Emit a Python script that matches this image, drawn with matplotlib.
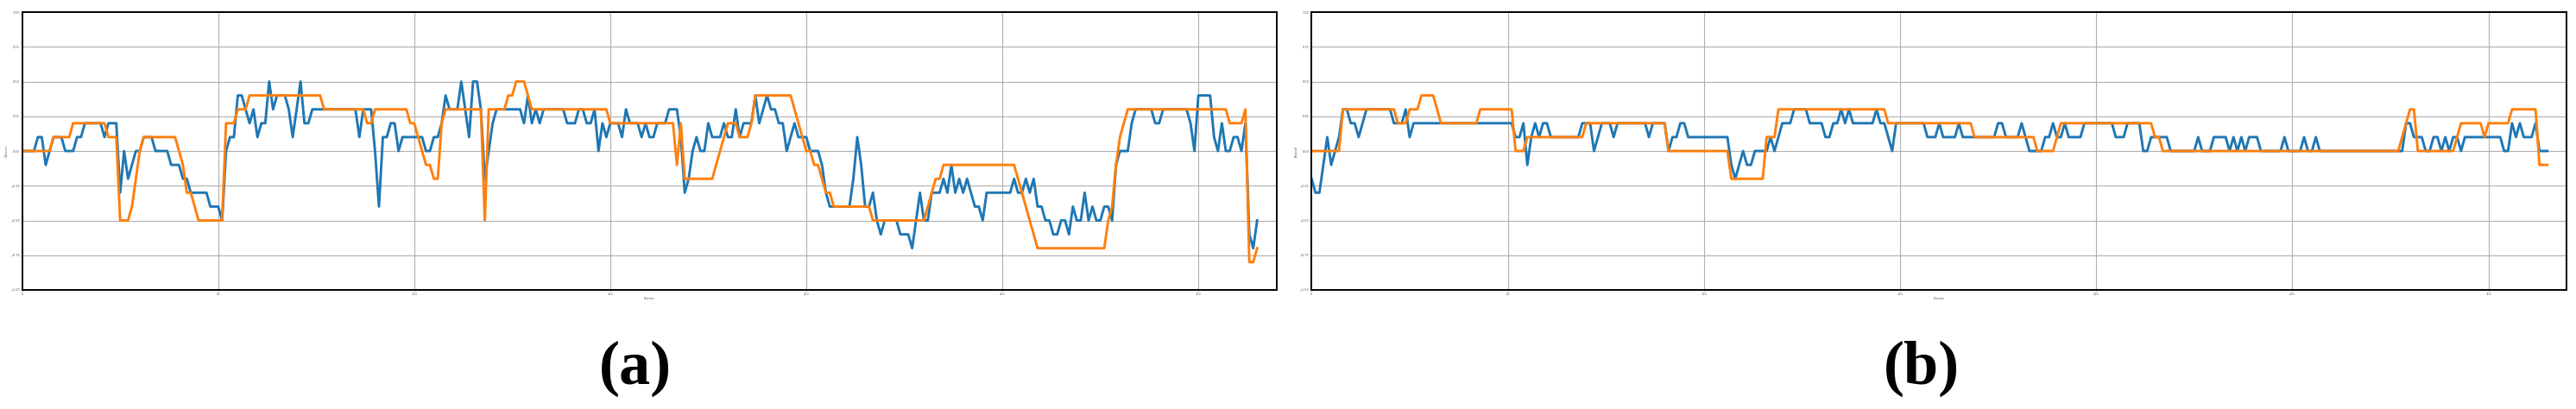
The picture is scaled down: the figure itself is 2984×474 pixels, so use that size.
import matplotlib
matplotlib.use("Agg")
import matplotlib.pyplot as plt

# per-frame values, panel (a)
a_blue = [
    0.0, 0.0, 0.0, 0.0, 0.1, 0.1, -0.1, 0.0, 0.1, 0.1, 0.1, 0.0, 0.0, 0.0, 0.1, 0.1, 0.2, 0.2, 0.2, 0.2,
    0.2, 0.1, 0.2, 0.2, 0.2, -0.3, 0.0, -0.2, -0.1, 0.0, 0.0, 0.1, 0.1, 0.1, 0.0, 0.0, 0.0, 0.0, -0.1, -0.1,
    -0.1, -0.2, -0.2, -0.3, -0.3, -0.3, -0.3, -0.3, -0.4, -0.4, -0.4, -0.5, 0.0, 0.1, 0.1, 0.4, 0.4, 0.3, 0.2, 0.3,
    0.1, 0.2, 0.2, 0.5, 0.3, 0.4, 0.4, 0.4, 0.3, 0.1, 0.3, 0.5, 0.2, 0.2, 0.3, 0.3, 0.3, 0.3, 0.3, 0.3,
    0.3, 0.3, 0.3, 0.3, 0.3, 0.3, 0.1, 0.3, 0.3, 0.3, 0.0, -0.4, 0.1, 0.1, 0.2, 0.2, 0.0, 0.1, 0.1, 0.1,
    0.1, 0.1, 0.1, 0.0, 0.0, 0.1, 0.1, 0.2, 0.4, 0.3, 0.3, 0.3, 0.5, 0.3, 0.1, 0.5, 0.5, 0.3, -0.2, 0.0,
    0.2, 0.3, 0.3, 0.3, 0.3, 0.3, 0.3, 0.3, 0.2, 0.4, 0.2, 0.3, 0.2, 0.3, 0.3, 0.3, 0.3, 0.3, 0.3, 0.2,
    0.2, 0.2, 0.3, 0.3, 0.2, 0.2, 0.3, 0.0, 0.2, 0.1, 0.2, 0.2, 0.2, 0.1, 0.3, 0.2, 0.2, 0.2, 0.1, 0.2,
    0.1, 0.1, 0.2, 0.2, 0.2, 0.3, 0.3, 0.3, 0.1, -0.3, -0.2, 0.0, 0.1, 0.0, 0.0, 0.2, 0.1, 0.1, 0.1, 0.2,
    0.1, 0.1, 0.3, 0.1, 0.2, 0.2, 0.2, 0.4, 0.2, 0.3, 0.4, 0.3, 0.3, 0.2, 0.2, 0.0, 0.1, 0.2, 0.1, 0.1,
    0.1, 0.0, 0.0, 0.0, -0.1, -0.3, -0.4, -0.4, -0.4, -0.4, -0.4, -0.4, -0.2, 0.1, -0.1, -0.4, -0.4, -0.3, -0.5, -0.6,
    -0.5, -0.5, -0.5, -0.5, -0.6, -0.6, -0.6, -0.7, -0.5, -0.3, -0.5, -0.5, -0.3, -0.3, -0.3, -0.2, -0.3, -0.1, -0.3, -0.2,
    -0.3, -0.2, -0.3, -0.4, -0.4, -0.5, -0.3, -0.3, -0.3, -0.3, -0.3, -0.3, -0.3, -0.2, -0.3, -0.3, -0.2, -0.3, -0.2, -0.4,
    -0.4, -0.5, -0.5, -0.6, -0.6, -0.5, -0.5, -0.6, -0.4, -0.5, -0.5, -0.3, -0.5, -0.4, -0.5, -0.5, -0.4, -0.4, -0.5, -0.1,
    0.0, 0.0, 0.0, 0.2, 0.3, 0.3, 0.3, 0.3, 0.3, 0.2, 0.2, 0.3, 0.3, 0.3, 0.3, 0.3, 0.3, 0.3, 0.2, 0.0,
    0.4, 0.4, 0.4, 0.4, 0.1, 0.0, 0.2, 0.0, 0.0, 0.1, 0.1, 0.0, 0.2, -0.6, -0.7, -0.5,
]
a_orange = [
    0.0, 0.0, 0.0, 0.0, 0.0, 0.0, 0.0, 0.0, 0.1, 0.1, 0.1, 0.1, 0.1, 0.2, 0.2, 0.2, 0.2, 0.2, 0.2, 0.2,
    0.2, 0.2, 0.1, 0.1, 0.1, -0.5, -0.5, -0.5, -0.4, -0.2, 0.0, 0.1, 0.1, 0.1, 0.1, 0.1, 0.1, 0.1, 0.1, 0.1,
    0.0, -0.1, -0.3, -0.3, -0.4, -0.5, -0.5, -0.5, -0.5, -0.5, -0.5, -0.5, 0.2, 0.2, 0.2, 0.3, 0.3, 0.3, 0.4, 0.4,
    0.4, 0.4, 0.4, 0.4, 0.4, 0.4, 0.4, 0.4, 0.4, 0.4, 0.4, 0.4, 0.4, 0.4, 0.4, 0.4, 0.4, 0.3, 0.3, 0.3,
    0.3, 0.3, 0.3, 0.3, 0.3, 0.3, 0.3, 0.3, 0.2, 0.2, 0.3, 0.3, 0.3, 0.3, 0.3, 0.3, 0.3, 0.3, 0.3, 0.2,
    0.2, 0.1, 0.0, -0.1, -0.1, -0.2, -0.2, 0.2, 0.3, 0.3, 0.3, 0.3, 0.3, 0.3, 0.3, 0.3, 0.3, 0.3, -0.5, 0.3,
    0.3, 0.3, 0.3, 0.3, 0.4, 0.4, 0.5, 0.5, 0.5, 0.4, 0.3, 0.3, 0.3, 0.3, 0.3, 0.3, 0.3, 0.3, 0.3, 0.3,
    0.3, 0.3, 0.3, 0.3, 0.3, 0.3, 0.3, 0.3, 0.3, 0.3, 0.2, 0.2, 0.2, 0.2, 0.2, 0.2, 0.2, 0.2, 0.2, 0.2,
    0.2, 0.2, 0.2, 0.2, 0.2, 0.2, 0.2, -0.1, 0.2, -0.2, -0.2, -0.2, -0.2, -0.2, -0.2, -0.2, -0.2, -0.1, 0.0, 0.1,
    0.2, 0.2, 0.2, 0.1, 0.1, 0.1, 0.2, 0.4, 0.4, 0.4, 0.4, 0.4, 0.4, 0.4, 0.4, 0.4, 0.4, 0.3, 0.2, 0.1,
    0.0, 0.0, -0.1, -0.1, -0.2, -0.3, -0.3, -0.4, -0.4, -0.4, -0.4, -0.4, -0.4, -0.4, -0.4, -0.4, -0.4, -0.5, -0.5, -0.5,
    -0.5, -0.5, -0.5, -0.5, -0.5, -0.5, -0.5, -0.5, -0.5, -0.5, -0.5, -0.4, -0.3, -0.2, -0.2, -0.1, -0.1, -0.1, -0.1, -0.1,
    -0.1, -0.1, -0.1, -0.1, -0.1, -0.1, -0.1, -0.1, -0.1, -0.1, -0.1, -0.1, -0.1, -0.1, -0.2, -0.3, -0.4, -0.5, -0.6, -0.7,
    -0.7, -0.7, -0.7, -0.7, -0.7, -0.7, -0.7, -0.7, -0.7, -0.7, -0.7, -0.7, -0.7, -0.7, -0.7, -0.7, -0.7, -0.5, -0.4, -0.1,
    0.1, 0.2, 0.3, 0.3, 0.3, 0.3, 0.3, 0.3, 0.3, 0.3, 0.3, 0.3, 0.3, 0.3, 0.3, 0.3, 0.3, 0.3, 0.3, 0.3,
    0.3, 0.3, 0.3, 0.3, 0.3, 0.3, 0.3, 0.3, 0.2, 0.2, 0.2, 0.2, 0.3, -0.8, -0.8, -0.7,
]

# per-frame values, panel (b)
b_blue = [
    -0.2, -0.3, -0.3, -0.1, 0.1, -0.1, 0.0, 0.1, 0.3, 0.3, 0.2, 0.2, 0.1, 0.2, 0.3, 0.3, 0.3, 0.3, 0.3, 0.3,
    0.3, 0.2, 0.2, 0.2, 0.3, 0.1, 0.2, 0.2, 0.2, 0.2, 0.2, 0.2, 0.2, 0.2, 0.2, 0.2, 0.2, 0.2, 0.2, 0.2,
    0.2, 0.2, 0.2, 0.2, 0.2, 0.2, 0.2, 0.2, 0.2, 0.2, 0.2, 0.2, 0.1, 0.1, 0.2, -0.1, 0.1, 0.2, 0.1, 0.2,
    0.2, 0.1, 0.1, 0.1, 0.1, 0.1, 0.1, 0.1, 0.1, 0.2, 0.2, 0.2, 0.0, 0.1, 0.2, 0.2, 0.2, 0.1, 0.2, 0.2,
    0.2, 0.2, 0.2, 0.2, 0.2, 0.2, 0.1, 0.2, 0.2, 0.2, 0.2, 0.0, 0.1, 0.1, 0.2, 0.2, 0.1, 0.1, 0.1, 0.1,
    0.1, 0.1, 0.1, 0.1, 0.1, 0.1, 0.1, -0.1, -0.2, -0.1, 0.0, -0.1, -0.1, 0.0, 0.0, 0.0, 0.0, 0.1, 0.0, 0.1,
    0.2, 0.2, 0.2, 0.3, 0.3, 0.3, 0.3, 0.2, 0.2, 0.2, 0.2, 0.1, 0.1, 0.2, 0.2, 0.3, 0.2, 0.3, 0.2, 0.2,
    0.2, 0.2, 0.2, 0.2, 0.3, 0.2, 0.2, 0.1, 0.0, 0.2, 0.2, 0.2, 0.2, 0.2, 0.2, 0.2, 0.2, 0.1, 0.1, 0.1,
    0.2, 0.1, 0.1, 0.1, 0.1, 0.2, 0.1, 0.1, 0.1, 0.1, 0.1, 0.1, 0.1, 0.1, 0.1, 0.2, 0.2, 0.1, 0.1, 0.1,
    0.1, 0.2, 0.1, 0.0, 0.0, 0.0, 0.0, 0.1, 0.1, 0.2, 0.1, 0.1, 0.2, 0.1, 0.1, 0.1, 0.1, 0.2, 0.2, 0.2,
    0.2, 0.2, 0.2, 0.2, 0.2, 0.1, 0.1, 0.1, 0.2, 0.2, 0.2, 0.2, 0.0, 0.0, 0.1, 0.1, 0.1, 0.1, 0.1, 0.0,
    0.0, 0.0, 0.0, 0.0, 0.0, 0.0, 0.1, 0.0, 0.0, 0.0, 0.1, 0.1, 0.1, 0.1, 0.0, 0.1, 0.0, 0.1, 0.0, 0.1,
    0.1, 0.1, 0.0, 0.0, 0.0, 0.0, 0.0, 0.0, 0.1, 0.0, 0.0, 0.0, 0.0, 0.1, 0.0, 0.0, 0.1, 0.0, 0.0, 0.0,
    0.0, 0.0, 0.0, 0.0, 0.0, 0.0, 0.0, 0.0, 0.0, 0.0, 0.0, 0.0, 0.0, 0.0, 0.0, 0.0, 0.0, 0.0, 0.0, 0.2,
    0.2, 0.1, 0.1, 0.1, 0.0, 0.0, 0.1, 0.1, 0.0, 0.1, 0.0, 0.1, 0.1, 0.0, 0.1, 0.1, 0.1, 0.1, 0.1, 0.1,
    0.1, 0.1, 0.1, 0.1, 0.0, 0.0, 0.2, 0.1, 0.2, 0.1, 0.1, 0.1, 0.2, 0.0, 0.0, 0.0,
]
b_orange = [
    0.0, 0.0, 0.0, 0.0, 0.0, 0.0, 0.0, 0.0, 0.3, 0.3, 0.3, 0.3, 0.3, 0.3, 0.3, 0.3, 0.3, 0.3, 0.3, 0.3,
    0.3, 0.3, 0.2, 0.2, 0.2, 0.3, 0.3, 0.3, 0.4, 0.4, 0.4, 0.4, 0.3, 0.2, 0.2, 0.2, 0.2, 0.2, 0.2, 0.2,
    0.2, 0.2, 0.2, 0.3, 0.3, 0.3, 0.3, 0.3, 0.3, 0.3, 0.3, 0.3, 0.0, 0.0, 0.0, 0.1, 0.1, 0.1, 0.1, 0.1,
    0.1, 0.1, 0.1, 0.1, 0.1, 0.1, 0.1, 0.1, 0.1, 0.1, 0.2, 0.2, 0.2, 0.2, 0.2, 0.2, 0.2, 0.2, 0.2, 0.2,
    0.2, 0.2, 0.2, 0.2, 0.2, 0.2, 0.2, 0.2, 0.2, 0.2, 0.2, 0.0, 0.0, 0.0, 0.0, 0.0, 0.0, 0.0, 0.0, 0.0,
    0.0, 0.0, 0.0, 0.0, 0.0, 0.0, 0.0, -0.2, -0.2, -0.2, -0.2, -0.2, -0.2, -0.2, -0.2, -0.2, 0.1, 0.1, 0.1, 0.3,
    0.3, 0.3, 0.3, 0.3, 0.3, 0.3, 0.3, 0.3, 0.3, 0.3, 0.3, 0.3, 0.3, 0.3, 0.3, 0.3, 0.3, 0.3, 0.3, 0.3,
    0.3, 0.3, 0.3, 0.3, 0.3, 0.3, 0.3, 0.2, 0.2, 0.2, 0.2, 0.2, 0.2, 0.2, 0.2, 0.2, 0.2, 0.2, 0.2, 0.2,
    0.2, 0.2, 0.2, 0.2, 0.2, 0.2, 0.2, 0.2, 0.2, 0.1, 0.1, 0.1, 0.1, 0.1, 0.1, 0.1, 0.1, 0.1, 0.1, 0.1,
    0.1, 0.1, 0.1, 0.1, 0.1, 0.0, 0.0, 0.0, 0.0, 0.0, 0.1, 0.2, 0.2, 0.2, 0.2, 0.2, 0.2, 0.2, 0.2, 0.2,
    0.2, 0.2, 0.2, 0.2, 0.2, 0.2, 0.2, 0.2, 0.2, 0.2, 0.2, 0.2, 0.2, 0.2, 0.2, 0.1, 0.1, 0.0, 0.0, 0.0,
    0.0, 0.0, 0.0, 0.0, 0.0, 0.0, 0.0, 0.0, 0.0, 0.0, 0.0, 0.0, 0.0, 0.0, 0.0, 0.0, 0.0, 0.0, 0.0, 0.0,
    0.0, 0.0, 0.0, 0.0, 0.0, 0.0, 0.0, 0.0, 0.0, 0.0, 0.0, 0.0, 0.0, 0.0, 0.0, 0.0, 0.0, 0.0, 0.0, 0.0,
    0.0, 0.0, 0.0, 0.0, 0.0, 0.0, 0.0, 0.0, 0.0, 0.0, 0.0, 0.0, 0.0, 0.0, 0.0, 0.0, 0.0, 0.0, 0.1, 0.2,
    0.3, 0.3, 0.0, 0.0, 0.0, 0.0, 0.0, 0.0, 0.0, 0.0, 0.0, 0.0, 0.1, 0.2, 0.2, 0.2, 0.2, 0.2, 0.2, 0.1,
    0.2, 0.2, 0.2, 0.2, 0.2, 0.2, 0.3, 0.3, 0.3, 0.3, 0.3, 0.3, 0.3, -0.1, -0.1, -0.1,
]

y_ticks = [-1.0, -0.75, -0.5, -0.25, 0.0, 0.25, 0.5, 0.75, 1.0]
x_ticks = [0, 50, 100, 150, 200, 250, 300]

panels = [
    ("Valence", a_blue, a_orange, "(a)", [0.00861, 0.29114, 0.48703, 0.67932], 0.2465),
    ("Arousal", b_blue, b_orange, "(b)", [0.50915, 0.29114, 0.48733, 0.67932], 0.7460),
]

fig = plt.figure(figsize=(29.84, 4.74), dpi=100)

for ylab, blue, orange, tag, rect, tag_x in panels:
    ax = fig.add_axes(rect)
    ax.plot(range(len(blue)), blue, color="#1f77b4", lw=2.1)
    ax.plot(range(len(orange)), orange, color="#ff7f0e", lw=2.1)
    ax.set_xlim(0, 320)
    ax.set_ylim(-1, 1)
    ax.set_yticks(y_ticks)
    ax.set_xticks(x_ticks)
    ax.grid(True, color="#b0b0b0", lw=0.8)
    ax.tick_params(labelsize=2.5, labelcolor="#555555", length=1, width=0.4, pad=1)
    ax.set_xlabel("Frames", fontsize=2.5, color="#555555", labelpad=1)
    ax.set_ylabel(ylab, fontsize=2.5, color="#555555", labelpad=1.5)
    for s in ax.spines.values():
        s.set_linewidth(1.4)
        s.set_color("black")
    fig.text(tag_x, 0.098, tag, ha="center", va="center", fontsize=52,
             fontweight="bold", family="Liberation Serif")

fig.savefig("out.png", dpi=100)
